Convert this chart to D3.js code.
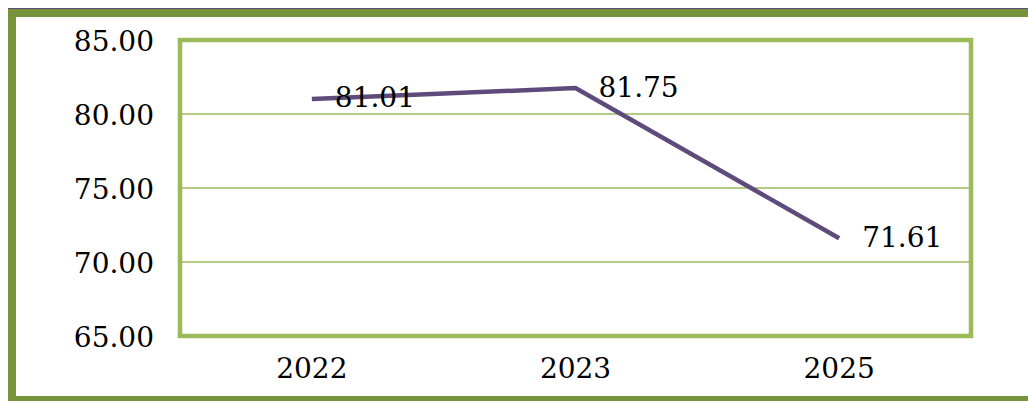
<!DOCTYPE html>
<html>
<head>
<meta charset="utf-8">
<script src="https://cdn.jsdelivr.net/npm/d3@7"></script>
<style>
  body { margin: 0; background: #fff; }
  text { font-family: "DejaVu Serif", serif; }
</style>
</head>
<body>
<div id="chart"></div>
<script>
// chart data
var years = ["2022", "2023", "2025"];
var values = [81.01, 81.75, 71.61];
var yTicks = [65, 70, 75, 80, 85];

var svgWidth = 1028;
var svgHeight = 401;

// plot area box
var margin = { top: 40, right: 57, bottom: 65, left: 180 };
var width = svgWidth - margin.left - margin.right;
var height = svgHeight - margin.top - margin.bottom;

var svg = d3.select("#chart")
    .append("svg")
    .attr("width", svgWidth)
    .attr("height", svgHeight);

// outer frame
svg.append("line")
    .attr("x1", 8).attr("x2", svgWidth)
    .attr("y1", 8.5).attr("y2", 8.5)
    .attr("stroke", "#5f4b7b").attr("stroke-width", 1);
svg.append("rect")
    .attr("x", 12).attr("y", 13)
    .attr("width", svgWidth + 20).attr("height", 387)
    .attr("fill", "none")
    .attr("stroke", "#77933c")
    .attr("stroke-width", 8);

var chartGroup = svg.append("g")
    .attr("transform", `translate(${margin.left}, ${margin.top})`);

var xScale = d3.scaleBand()
    .domain(years)
    .range([0, width]);

var yScale = d3.scaleLinear()
    .domain([65, 85])
    .range([height, 0]);

// gridlines
chartGroup.selectAll(".grid")
    .data(yTicks)
    .enter()
    .append("line")
    .attr("x1", 0).attr("x2", width)
    .attr("y1", d => yScale(d)).attr("y2", d => yScale(d))
    .attr("stroke", "#9bbb59")
    .attr("stroke-width", 1.5);

// plot area border
chartGroup.append("rect")
    .attr("x", 0).attr("y", 0)
    .attr("width", width).attr("height", height)
    .attr("fill", "none")
    .attr("stroke", "#9bbb59")
    .attr("stroke-width", 4.5);

// axes (labels only)
var leftAxis = d3.axisLeft(yScale)
    .tickValues(yTicks)
    .tickFormat(d3.format(".2f"))
    .tickSize(0)
    .tickPadding(26);

var bottomAxis = d3.axisBottom(xScale)
    .tickSize(0)
    .tickPadding(22);

var yAxisG = chartGroup.append("g").call(leftAxis);
var xAxisG = chartGroup.append("g")
    .attr("transform", `translate(0, ${height})`)
    .call(bottomAxis);

[yAxisG, xAxisG].forEach(function(g) {
    g.select(".domain").remove();
    g.selectAll("text")
        .attr("font-family", "DejaVu Serif, serif")
        .attr("font-size", "28px")
        .attr("fill", "#000");
});
yAxisG.selectAll("text").attr("dy", "0.36em");
xAxisG.selectAll("text").attr("dy", "0.7em");

// line
var line = d3.line()
    .x((d, i) => xScale(years[i]) + xScale.bandwidth() / 2)
    .y(d => yScale(d));

chartGroup.append("path")
    .datum(values)
    .attr("d", line)
    .attr("fill", "none")
    .attr("stroke", "#5f4b7b")
    .attr("stroke-width", 4.5);

// data labels
chartGroup.selectAll(".label")
    .data(values)
    .enter()
    .append("text")
    .attr("x", (d, i) => xScale(years[i]) + xScale.bandwidth() / 2 + 23)
    .attr("y", d => yScale(d))
    .attr("dy", "0.3em")
    .attr("font-size", "28px")
    .attr("fill", "#000")
    .text(d => d3.format(".2f")(d));
</script>
</body>
</html>
